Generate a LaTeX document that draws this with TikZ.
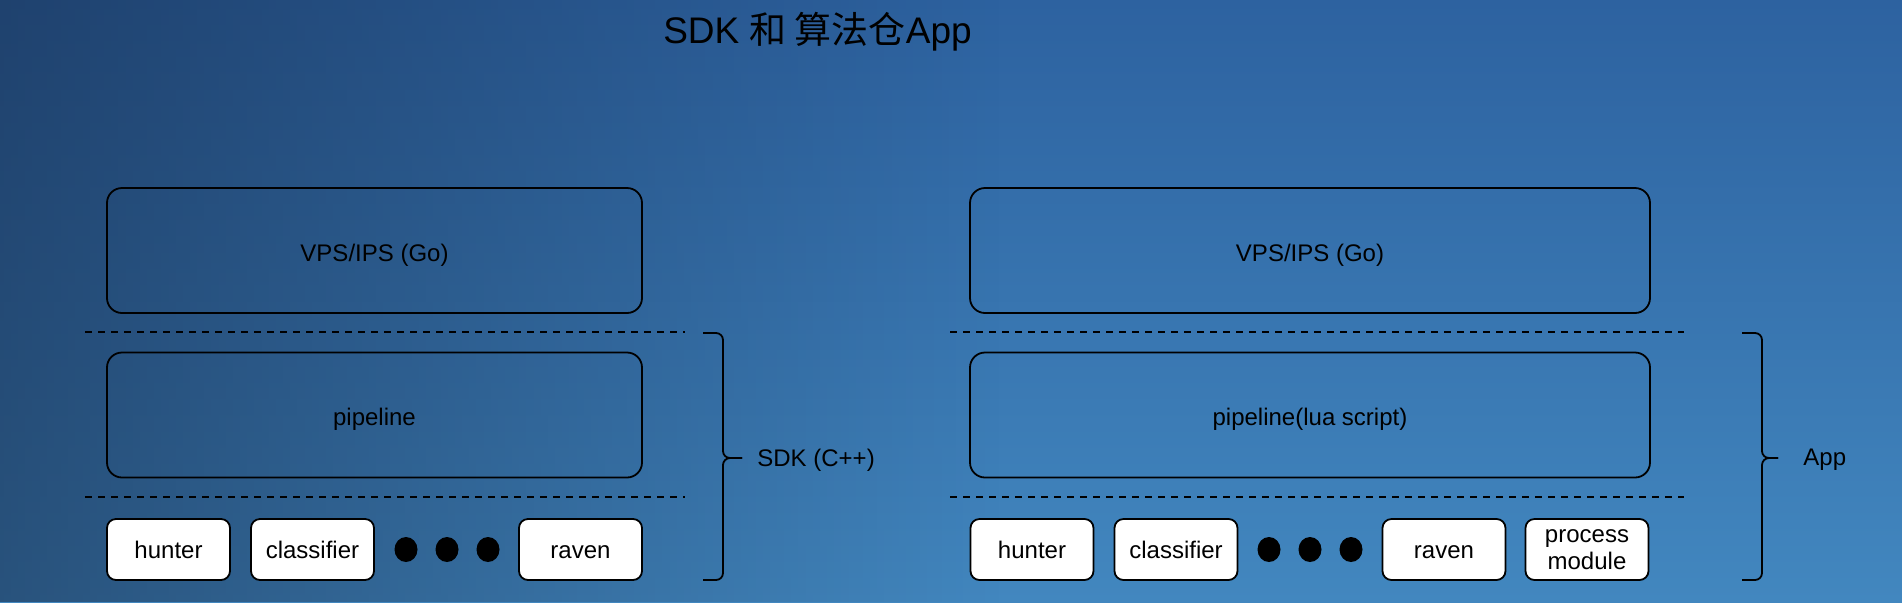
\documentclass[tikz,border=0pt]{standalone}
\usepackage{fontspec}
\setmainfont{Liberation Sans}
\newfontfamily\cjk{Noto Sans CJK SC}
\usetikzlibrary{fadings,shapes.geometric}
\definecolor{bgtop}{HTML}{2D62A0}
\definecolor{bgbot}{HTML}{4287BF}
\definecolor{bgdark}{HTML}{142846}
\tikzfading[name=fadeleft, left color=transparent!45, right color=transparent!100]
\begin{document}
\begin{tikzpicture}[x=0.5pt,y=-0.5pt,
  bigbox/.style={draw=black, line width=0.9pt, rounded corners=7.5pt, minimum height=62.5pt, inner sep=0pt},
  boxtext/.style={inner sep=0pt, font=\fontsize{12}{14}\selectfont},
  modbox/.style={draw=black, fill=white, line width=0.9pt, rounded corners=4.5pt, minimum width=61.5pt, minimum height=30.5pt, inner sep=0pt, align=center, font=\fontsize{12}{14}\selectfont},
  onebox/.style={modbox, text height=8.6pt, text depth=0pt},
  dotn/.style={ellipse, fill=black, minimum width=11.5pt, minimum height=12.5pt, inner sep=0pt},
  sepline/.style={draw=black, line width=0.7pt, dash pattern=on 3.5pt off 3pt},
  bracepath/.style={draw=black, line width=0.9pt, rounded corners=3.5pt},
  lbl/.style={anchor=west, inner sep=0pt, font=\fontsize{12}{14}\selectfont}]
% background
\useasboundingbox (0,0) rectangle (1902,602);
\shade[top color=bgtop, bottom color=bgbot] (0,0) rectangle (1902,602);
\fill[bgdark, path fading=fadeleft] (0,0) rectangle (1000,602);
% title
\node[anchor=base, inner sep=0pt, font=\fontsize{18.5}{20}\selectfont] (title) at (817.5,43) {SDK {\cjk 和 算法仓}App};
% left column
\node[bigbox, minimum width=267.5pt] (vpsL) at (374.5,250.5) {};
\node[boxtext] (vpsLt) at (374.5,255) {VPS/IPS (Go)};
\node[bigbox, minimum width=267.5pt] (pipeL) at (374.5,415) {};
\node[boxtext] (pipeLt) at (374.5,419) {pipeline};
\node[onebox] (hunterL) at (168.5,549.5) {hunter};
\node[onebox] (classL) at (312.5,549.5) {classifier};
\node[dotn] (d1L) at (406,549.5) {};
\node[dotn] (d2L) at (447,549.5) {};
\node[dotn] (d3L) at (488,549.5) {};
\node[onebox] (ravenL) at (580.5,549.5) {raven};
\coordinate (s1La) at (85,332);
\coordinate (s1Lb) at (685,332);
\coordinate (s2La) at (85,497);
\coordinate (s2Lb) at (685,497);
\draw[sepline] (s1La) -- (s1Lb);
\draw[sepline] (s2La) -- (s2Lb);
% left brace
\coordinate (bLt) at (703,333);
\coordinate (bLb) at (703,580);
\coordinate (bLtip) at (742,458);
\draw[bracepath] (bLt) -- (723,333) -- (723,458) -- (bLtip);
\draw[bracepath] (bLb) -- (723,580) -- (723,458) -- (bLtip);
\node[lbl] (sdk) at (757,460) {SDK (C++)};
% right column
\node[bigbox, minimum width=340pt] (vpsR) at (1310,250.5) {};
\node[boxtext] (vpsRt) at (1310,255) {VPS/IPS (Go)};
\node[bigbox, minimum width=340pt] (pipeR) at (1310,415) {};
\node[boxtext] (pipeRt) at (1310,419) {pipeline(lua script)};
\node[onebox] (hunterR) at (1032,549.5) {hunter};
\node[onebox] (classR) at (1176,549.5) {classifier};
\node[dotn] (d1R) at (1269,549.5) {};
\node[dotn] (d2R) at (1310,549.5) {};
\node[dotn] (d3R) at (1351,549.5) {};
\node[onebox] (ravenR) at (1444,549.5) {raven};
\node[modbox, font=\fontsize{12}{13.5}\selectfont] (procR) at (1587,549.5) {process\\module};
\coordinate (s1Ra) at (950,332);
\coordinate (s1Rb) at (1684,332);
\coordinate (s2Ra) at (950,497);
\coordinate (s2Rb) at (1684,497);
\draw[sepline] (s1Ra) -- (s1Rb);
\draw[sepline] (s2Ra) -- (s2Rb);
% right brace
\coordinate (bRt) at (1742,333);
\coordinate (bRb) at (1742,580);
\coordinate (bRtip) at (1778,458);
\draw[bracepath] (bRt) -- (1762,333) -- (1762,458) -- (bRtip);
\draw[bracepath] (bRb) -- (1762,580) -- (1762,458) -- (bRtip);
\node[lbl] (app) at (1803,460) {App};
\end{tikzpicture}
\end{document}
